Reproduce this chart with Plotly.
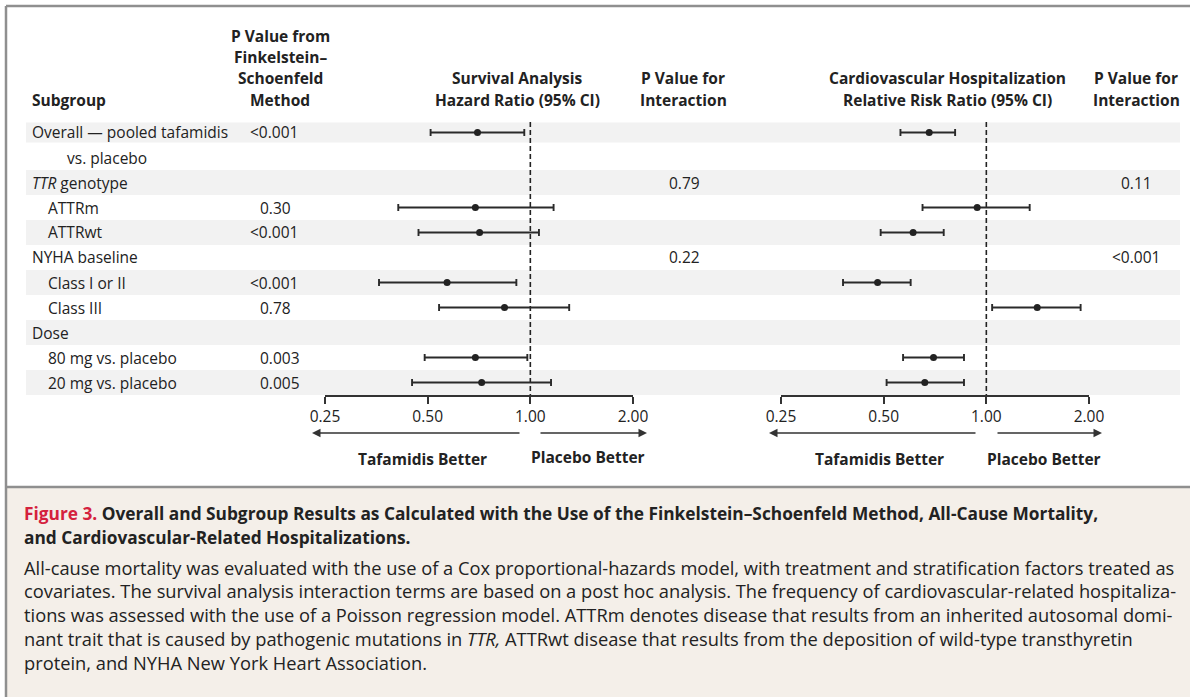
import plotly.graph_objects as go

W, H = 1190, 697
FONT = "Open Sans"
TXT = "#222222"

# ---------------- data ----------------
subgroups = ["Overall — pooled tafamidis", "<i>TTR</i> genotype", "ATTRm", "ATTRwt",
             "NYHA baseline", "Class I or II", "Class III", "Dose",
             "80 mg vs. placebo", "20 mg vs. placebo"]
indent = [0, 0, 1, 1, 0, 1, 1, 0, 1, 1]
row_pos = [0, 2, 3, 4, 5, 6, 7, 8, 9, 10]
fs_p = ["<0.001", "", "0.30", "<0.001", "", "<0.001", "0.78", "", "0.003", "0.005"]
int_p_surv = ["", "0.79", "", "", "0.22", "", "", "", "", ""]
int_p_cv = ["", "0.11", "", "", "<0.001", "", "", "", "", ""]

hr_est = [0.70, None, 0.69, 0.71, None, 0.57, 0.84, None, 0.69, 0.72]
hr_lo = [0.51, None, 0.41, 0.47, None, 0.36, 0.54, None, 0.49, 0.45]
hr_hi = [0.96, None, 1.17, 1.06, None, 0.91, 1.30, None, 0.98, 1.15]

rrr_est = [0.68, None, 0.94, 0.61, None, 0.48, 1.41, None, 0.70, 0.66]
rrr_lo = [0.56, None, 0.65, 0.49, None, 0.38, 1.04, None, 0.57, 0.51]
rrr_hi = [0.81, None, 1.34, 0.75, None, 0.60, 1.89, None, 0.86, 0.86]

tick_vals = [0.25, 0.5, 1.0, 2.0]
tick_text = ["0.25", "0.50", "1.00", "2.00"]
shaded_rows = [0, 2, 4, 6, 8, 10]


def px(x):
    return x / W


def py(y):
    return 1 - y / H


fig = go.Figure()


def add_forest(est, lo, hi, xa):
    xs, ys, ep, em = [], [], [], []
    for e, l, h, r in zip(est, lo, hi, row_pos):
        if e is None:
            continue
        xs.append(e)
        ys.append(r)
        ep.append(h - e)
        em.append(e - l)
    fig.add_trace(go.Scatter(
        x=[1, 1], y=[-0.42, 10.5], mode="lines", xaxis=xa, yaxis="y",
        line=dict(color="#222", width=1.6, dash="5px,3px"), hoverinfo="skip",
        showlegend=False))
    fig.add_trace(go.Scatter(
        x=xs, y=ys, mode="markers", xaxis=xa, yaxis="y",
        marker=dict(symbol="circle", size=7, color="#222"),
        error_x=dict(type="data", symmetric=False, array=ep, arrayminus=em,
                     color="#2a2a2a", thickness=1.9, width=3.5),
        showlegend=False, cliponaxis=False))


add_forest(hr_est, hr_lo, hr_hi, "x")
add_forest(rrr_est, rrr_lo, rrr_hi, "x2")

axis_common = dict(
    type="log", range=[-0.60206, 0.30103], tickvals=tick_vals, ticktext=tick_text,
    showline=True, linecolor="#333", linewidth=1.6, ticks="outside", ticklen=7,
    tickwidth=1.6, tickcolor="#333", showgrid=False, zeroline=False, automargin=False,
    tickfont=dict(family=FONT, size=15.5, color=TXT), anchor="y", fixedrange=True)

fig.update_layout(
    template="none",
    width=W, height=H, margin=dict(l=0, r=0, t=0, b=0, pad=0, autoexpand=False),
    paper_bgcolor="white", plot_bgcolor="rgba(0,0,0,0)",
    font=dict(family=FONT, color=TXT),
    xaxis=dict(domain=[px(325), px(633)], **axis_common),
    xaxis2=dict(domain=[px(781), px(1089)], **axis_common),
    yaxis=dict(domain=[py(395), py(117.5)], range=[10.5, -0.6], visible=False,
               fixedrange=True, automargin=False),
    showlegend=False,
)

shapes = []
# row bands
for r in shaded_rows:
    h = 0.4 if r == 0 else 0.5
    shapes.append(dict(type="rect", xref="paper", yref="y", x0=px(26), x1=px(1180),
                       y0=r - h, y1=r + h, fillcolor="#f2f2f2", line=dict(width=0),
                       layer="below"))
# caption background
shapes.append(dict(type="rect", xref="paper", yref="paper", x0=px(6), x1=1.0,
                   y0=0, y1=py(487), fillcolor="#f4efe9", line=dict(width=0),
                   layer="below"))
# frame lines
frame = dict(color="#8f8f8f", width=2.5)
shapes.append(dict(type="line", xref="paper", yref="paper", x0=px(6), x1=1.0,
                   y0=py(6), y1=py(6), line=frame))
shapes.append(dict(type="line", xref="paper", yref="paper", x0=px(6), x1=px(6),
                   y0=py(6), y1=0, line=frame))
shapes.append(dict(type="line", xref="paper", yref="paper", x0=px(6), x1=1.0,
                   y0=py(487), y1=py(487), line=frame))
fig.update_layout(shapes=shapes)

ann = []


def text(x, y, s, anchor="center", size=15.5, bold=False, color=TXT):
    ann.append(dict(xref="paper", yref="paper", x=px(x), y=py(y), xanchor=anchor,
                    yanchor="middle", showarrow=False,
                    text=("<b>%s</b>" % s) if bold else s,
                    font=dict(family=FONT, size=size, color=color)))


HB = 15.5
# headers
text(30, 100, "Subgroup", "left", HB, True)
for yy, s in zip([36, 57, 78, 100], ["P Value from", "Finkelstein–", "Schoenfeld", "Method"]):
    text(280, yy, s, "center", HB, True)
text(517, 78, "Survival Analysis", "center", HB, True)
text(517, 100, "Hazard Ratio (95% CI)", "center", HB, True)
text(683, 78, "P Value for", "center", HB, True)
text(683, 100, "Interaction", "center", HB, True)
text(948, 78, "Cardiovascular Hospitalization", "center", HB, True)
text(948, 100, "Relative Risk Ratio (95% CI)", "center", HB, True)
text(1136, 78, "P Value for", "center", HB, True)
text(1136, 100, "Interaction", "center", HB, True)


def row_y(r):
    return 132.5 + 25 * r


# rows
for lab, ind, r, p, p1, p2 in zip(subgroups, indent, row_pos, fs_p, int_p_surv, int_p_cv):
    text(30 + 16 * ind, row_y(r), lab, "left")
    if p:
        if p.startswith("<"):
            text(248, row_y(r), p, "left")
        else:
            text(258, row_y(r), p, "left")
    if p1:
        text(684, row_y(r), p1, "center")
    if p2:
        text(1136, row_y(r), p2, "center")
text(65, row_y(1), "vs. placebo", "left")

# direction arrows and labels
for tip, tail in [(312, 521), (647, 539), (769, 977), (1102, 996)]:
    ann.append(dict(xref="paper", yref="paper", x=px(tip), y=py(433), ax=tail - tip, ay=0,
                    axref="pixel", ayref="pixel", text="", showarrow=True, arrowhead=2,
                    arrowsize=1, arrowwidth=1.7, arrowcolor="#333", standoff=0,
                    startstandoff=0))
text(422, 459, "Tafamidis Better", "center", HB, True)
text(588, 457, "Placebo Better", "center", HB, True)
text(879, 459, "Tafamidis Better", "center", HB, True)
text(1044, 459, "Placebo Better", "center", HB, True)

# caption
title1 = ("<span style='color:#d4213d'>Figure 3.</span> Overall and Subgroup Results as Calculated "
          "with the Use of the Finkelstein–Schoenfeld Method, All-Cause Mortality,")
title2 = "and Cardiovascular-Related Hospitalizations."
text(22, 513, title1, "left", 17.3, True)
text(22, 537, title2, "left", 17.3, True)
body = [
    "All-cause mortality was evaluated with the use of a Cox proportional-hazards model, with treatment and stratification factors treated as",
    "covariates. The survival analysis interaction terms are based on a post hoc analysis. The frequency of cardiovascular-related hospitaliza-",
    "tions was assessed with the use of a Poisson regression model. ATTRm denotes disease that results from an inherited autosomal domi-",
    "nant trait that is caused by pathogenic mutations in <i>TTR,</i> ATTRwt disease that results from the deposition of wild-type transthyretin",
    "protein, and NYHA New York Heart Association.",
]
for yy, s in zip([567, 590, 614, 638, 662], body):
    text(22, yy, s, "left", 18.3)

fig.update_layout(annotations=ann)
fig.write_html("out.html")
